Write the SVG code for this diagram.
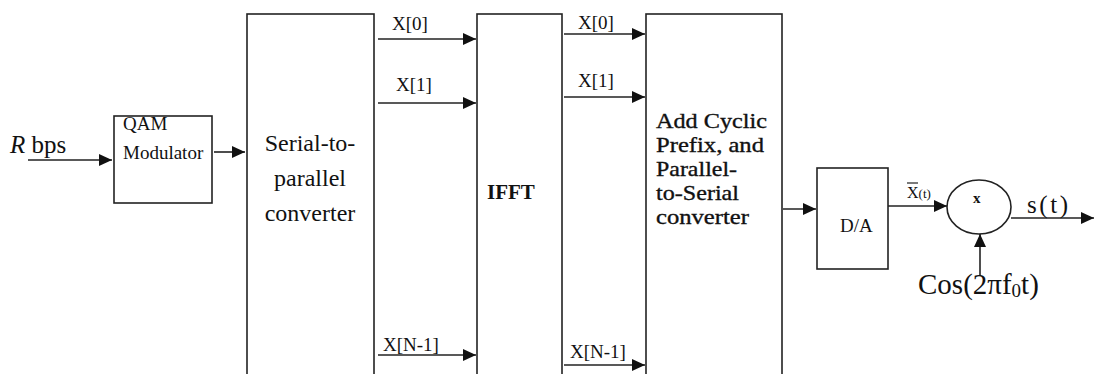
<svg xmlns="http://www.w3.org/2000/svg" width="1094" height="374" viewBox="0 0 1094 374" font-family="'Liberation Serif', 'Times New Roman', serif">
<style>
.box{fill:#fff;stroke:#222;stroke-width:1.6}
.ln{fill:none;stroke:#222;stroke-width:1.6;marker-end:url(#ah)}
text{fill:#111;font-family:"Liberation Serif","Times New Roman",serif}
.lbl{font-size:19px}
.big{font-size:24px}
.add{font-size:21px;stroke:#111;stroke-width:0.35px}
</style>
<defs>
<marker id="ah" markerUnits="userSpaceOnUse" markerWidth="14" markerHeight="12" refX="13" refY="6" orient="auto">
<path d="M0,0 L13,6 L0,12 z" fill="#111"/>
</marker>
</defs>
<rect width="1094" height="374" fill="#fff"/>

<g id="input">
<text x="10" y="153" font-size="25"><tspan font-style="italic">R</tspan> bps</text>
</g>

<g id="qam">
<rect class="box" x="114" y="116" width="98" height="87"/>
<text class="lbl" x="123" y="130">QAM</text>
<text class="lbl" x="123" y="159">Modulator</text>
</g>

<g id="s2p">
<rect class="box" x="247" y="14" width="127" height="380"/>
<text class="big" text-anchor="middle" x="310" y="151">Serial-to-</text>
<text class="big" text-anchor="middle" x="310" y="186">parallel</text>
<text class="big" text-anchor="middle" x="310" y="221">converter</text>
</g>

<g id="ifft">
<rect class="box" x="477" y="14" width="85" height="380"/>
<text x="487" y="199" font-size="21" font-weight="bold">IFFT</text>
</g>

<g id="cp">
<rect class="box" x="646" y="14" width="136" height="380"/>
<text class="add" x="656" y="128" textLength="111" lengthAdjust="spacingAndGlyphs">Add Cyclic</text>
<text class="add" x="656" y="152" textLength="108" lengthAdjust="spacingAndGlyphs">Prefix, and</text>
<text class="add" x="656" y="176" textLength="81" lengthAdjust="spacingAndGlyphs">Parallel-</text>
<text class="add" x="656" y="200" textLength="83" lengthAdjust="spacingAndGlyphs">to-Serial</text>
<text class="add" x="656" y="224" textLength="93" lengthAdjust="spacingAndGlyphs">converter</text>
</g>

<g id="da">
<rect class="box" x="817" y="168" width="71" height="101"/>
<text class="lbl" x="840" y="232">D/A</text>
</g>

<g id="mixer">
<ellipse class="box" cx="979" cy="207" rx="32" ry="27"/>
<text x="973" y="203" font-size="15" font-weight="bold">x</text>
</g>

<g id="connectors">
<line class="ln" x1="28" y1="160" x2="112" y2="160"/>
<line class="ln" x1="214" y1="152" x2="245" y2="152"/>
<line class="ln" x1="378" y1="39" x2="476" y2="39"/>
<line class="ln" x1="378" y1="103" x2="476" y2="103"/>
<line class="ln" x1="378" y1="355" x2="476" y2="355"/>
<line class="ln" x1="564" y1="34" x2="645" y2="34"/>
<line class="ln" x1="564" y1="97" x2="645" y2="97"/>
<line class="ln" x1="564" y1="365" x2="645" y2="365"/>
<line class="ln" x1="783" y1="209" x2="816" y2="209"/>
<line class="ln" x1="888" y1="206" x2="947" y2="206"/>
<line class="ln" x1="1011" y1="218" x2="1094" y2="218"/>
<line class="ln" x1="980" y1="276" x2="980" y2="234"/>
</g>

<g id="labels">
<text class="lbl" x="392" y="30">X[0]</text>
<text class="lbl" x="396" y="91">X[1]</text>
<text class="lbl" x="383" y="351">X[N-1]</text>
<text class="lbl" x="578" y="29">X[0]</text>
<text class="lbl" x="578" y="87">X[1]</text>
<text class="lbl" x="570" y="358">X[N-1]</text>
<text x="907" y="198" font-size="16">X<tspan font-size="13">(t)</tspan></text>
<line x1="907" y1="183" x2="918" y2="183" stroke="#222" stroke-width="1.2"/>
<text x="1027" y="213" font-size="25" textLength="41" lengthAdjust="spacing">s(t)</text>
<text x="918" y="294" font-size="29">Cos(2πf<tspan font-size="19" dy="3">0</tspan><tspan dy="-3">t)</tspan></text>
</g>
</svg>
